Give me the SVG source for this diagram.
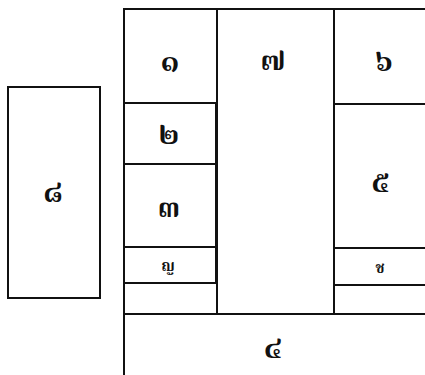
<svg xmlns="http://www.w3.org/2000/svg" width="425" height="375" viewBox="0 0 425 375">
<style>
.b{fill:none;stroke:#111;stroke-width:2}
.t{font-family:"Noto Serif Thai","Noto Sans Thai Looped","Norasi","Kinnari","Garuda","Loma","Noto Sans Thai","DejaVu Sans",sans-serif;font-size:30px;font-weight:bold;fill:#111;text-anchor:middle}
.s{font-size:15px}
</style>
<rect width="425" height="375" fill="#fff"/>
<g id="connectors"></g>
<g id="outer"><path class="b" d="M124,376 V9 H426"/></g>
<g id="n1"><rect class="b" x="124" y="9" width="93" height="94"/><text class="t" x="170" y="71">๑</text></g>
<g id="n2"><rect class="b" x="124" y="103" width="92" height="61"/><text class="t" x="169" y="144">๒</text></g>
<g id="n3"><rect class="b" x="124" y="164" width="92" height="83"/><text class="t" x="169" y="217">๓</text></g>
<g id="nY"><rect class="b" x="124" y="247" width="92" height="36"/><text class="t s" x="168" y="271">ญ</text></g>
<g id="n7"><path class="b" d="M217,9 V314 H334 V9"/><text class="t" x="273" y="70">๗</text></g>
<g id="n6"><path class="b" d="M334,9 V104 H426"/><text class="t" x="384" y="71">๖</text></g>
<g id="n5"><path class="b" d="M334,104 V248 H426"/><text class="t" x="381" y="192">๕</text></g>
<g id="nC"><path class="b" d="M334,248 V285 H426"/><text class="t s" x="380" y="273">ช</text></g>
<g id="n4"><path class="b" d="M124,314 H426"/><text class="t" x="273" y="358">๔</text></g>
<g id="n8"><rect class="b" x="8" y="87" width="92" height="211"/><text class="t" x="53" y="202">๘</text></g>
</svg>
